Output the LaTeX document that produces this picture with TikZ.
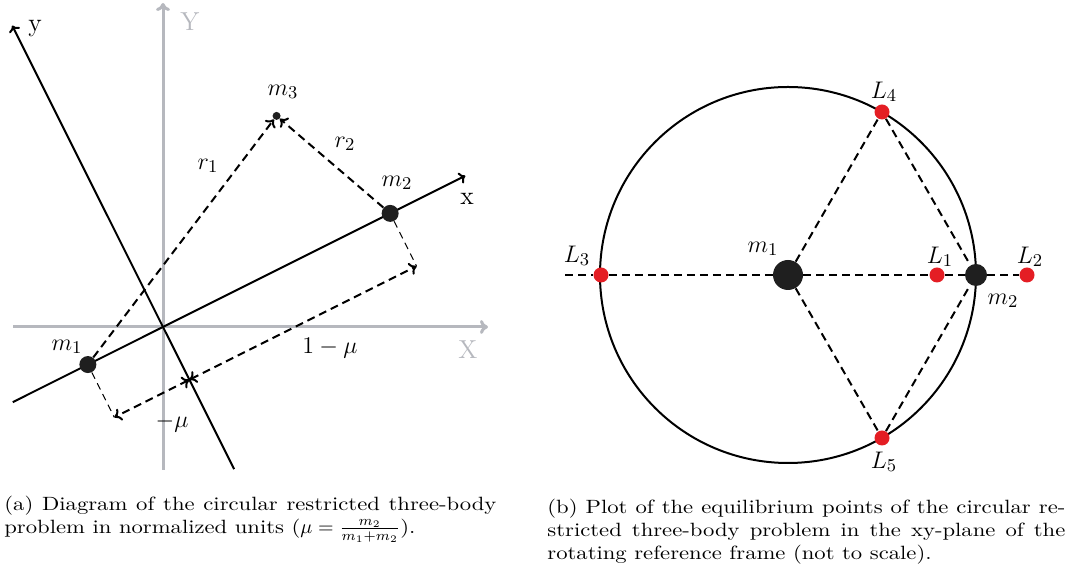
\documentclass[tikz,border=0pt]{standalone}
\usepackage{amsmath}
\usepackage{fontspec}
\usepackage{xcolor}
\usepackage{tikz}
\usetikzlibrary{arrows.meta, positioning, calc}

\definecolor{axisgray}{RGB}{182,184,190}
\definecolor{lagrred}{RGB}{228,30,36}
\newfontfamily\capfnt[FakeStretch=1.18]{Latin Modern Roman}

\begin{document}
\begin{tikzpicture}[
  x = 0.5pt, y = 0.5pt,
  lbl/.style = {font=\fontsize{13}{15}\selectfont, inner sep=0pt},
  grayaxis/.style = {-{To[length=4pt,width=7pt]}, line width=1.5pt, draw=axisgray},
  rotaxis/.style = {-{To[length=3pt,width=6pt]}, line width=1pt},
  body/.style = {circle, fill=black!88, inner sep=0pt, minimum size=8.5pt},
  bigbody/.style = {body, minimum size=15pt},
  midbody/.style = {body, minimum size=11pt},
  probe/.style = {body, minimum size=4pt},
  lagr/.style = {circle, fill=lagrred, inner sep=0pt, minimum size=7.5pt},
  dist/.style = {dashed, line width=1pt, dash pattern=on 4pt off 2.5pt},
  distarrow/.style = {dist, -{To[length=3.5pt,width=6.5pt]}},
  offset/.style = {line width=0.5pt, dash pattern=on 3.5pt off 2.5pt},
  dimline/.style = {dist, {To[length=3.5pt,width=6.5pt]}-{To[length=3.5pt,width=6.5pt]}},
  orbit/.style = {line width=1pt},
  capt/.style = {anchor=north west, inner sep=0pt, align=justify,
                 font=\capfnt\fontsize{9.6}{11.5}\selectfont},
]
\useasboundingbox (0,0) rectangle (1072,566);

% (a) inertial and rotating frames
\coordinate (O) at (163,239);
\coordinate (Xs) at (13,239);
\coordinate (Xe) at (488,239);
\coordinate (Ys) at (163,96);
\coordinate (Ye) at (163,563);
\draw[grayaxis] (Xs) -- (Xe);
\draw[grayaxis] (Ys) -- (Ye);
\node[lbl, text=axisgray] (Xlab) at (468,216) {X};
\node[lbl, text=axisgray] (Ylab) at (190,544) {Y};

\begin{scope}[shift={(O)}, rotate=26.57]
  \coordinate (xs) at (-168,0);
  \coordinate (xe) at (338,0);
  \coordinate (ys) at (0,-159);
  \coordinate (ye) at (0,337);
  \coordinate (d1) at (-84,-59);
  \coordinate (d2) at (254,-59);
  \coordinate (d0) at (0,-59);
  \draw[rotaxis] (xs) -- (xe);
  \draw[rotaxis] (ys) -- (ye);
  \node[body] (m1) at (-84,0) {};
  \node[body] (m2) at (254,0) {};
  \node[probe] (m3) at (196,138) {};
\end{scope}

\node[lbl] (xlab) at (467,367) {x};
\node[lbl] (ylab) at (35,537) {y};

\draw[distarrow] (m1) -- (m3);
\draw[distarrow] (m2) -- (m3);
\draw[offset] (m1) -- (d1);
\draw[offset] (m2) -- (d2);
\draw[dimline] (d0) -- (d2);
\draw[dimline] (d0) -- (d1);

\node[lbl] (m1lab) at (67,219) {$m_1$};
\node[lbl] (m2lab) at (397,383) {$m_2$};
\node[lbl] (m3lab) at (283,474) {$m_3$};
\node[lbl] (r1lab) at (208,400) {$r_1$};
\node[lbl] (r2lab) at (345,422) {$r_2$};
\node[lbl] (onelab) at (330,218) {$1-\mu$};
\node[lbl] (mulab) at (172,143) {$-\mu$};

% (b) equilibrium points
\coordinate (stub) at (565,291);
\draw[orbit] (788,291) circle (188);
\node[bigbody] (M1) at (788,291) {};
\node[midbody] (M2) at (976,291) {};
\node[lagr] (L1) at (937,291) {};
\node[lagr] (L2) at (1027,291) {};
\node[lagr] (L3) at (601,291) {};
\node[lagr] (L4) at (882,454) {};
\node[lagr] (L5) at (882,128) {};

\draw[dist] (stub) -- (L3);
\draw[dist] (L3) -- (M1);
\draw[dist] (M1) -- (L1);
\draw[dist] (L1) -- (M2);
\draw[dist] (M2) -- (L2);
\draw[dist] (M1) -- (L4);
\draw[dist] (M1) -- (L5);
\draw[dist] (L4) -- (M2);
\draw[dist] (L5) -- (M2);

\node[lbl] (L1lab) at (940,309) {$L_1$};
\node[lbl] (L2lab) at (1030,309) {$L_2$};
\node[lbl] (L3lab) at (577,310) {$L_3$};
\node[lbl] (L4lab) at (884,474) {$L_4$};
\node[lbl] (L5lab) at (884,104) {$L_5$};
\node[lbl] (M1lab) at (763,317) {$m_1$};
\node[lbl] (M2lab) at (1003,265) {$m_2$};

% captions
\node[capt, text width=246pt] (capa) at (4,70)
  {(a) Diagram of the circular restricted three-body\linebreak
   problem in normalized units ($\mu=\frac{m_2}{m_1+m_2}$).};
\node[capt, text width=259pt] (capb) at (547,67)
  {(b) Plot of the equilibrium points of the circular re-\linebreak
   stricted three-body problem in the xy-plane of the\linebreak
   rotating reference frame (not to scale).};
\end{tikzpicture}
\end{document}
